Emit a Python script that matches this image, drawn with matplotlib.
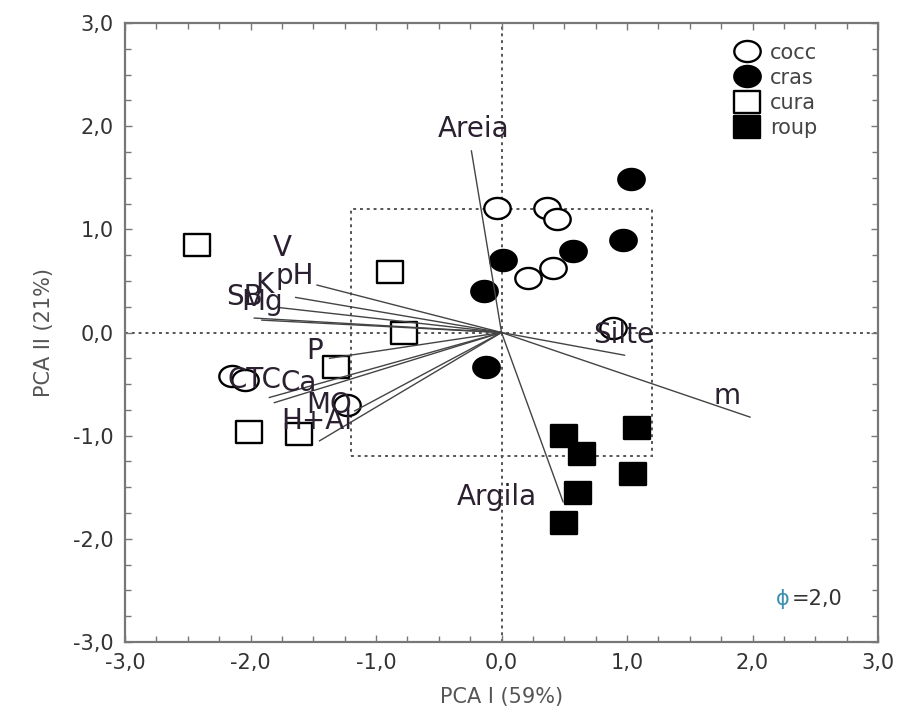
import matplotlib
matplotlib.use('Agg')
import matplotlib.pyplot as plt
import numpy as np
from matplotlib.path import Path
from matplotlib.lines import Line2D
from matplotlib.patches import Rectangle
from matplotlib.ticker import MultipleLocator, FuncFormatter

# sample scores on the first two components
cocc_x = [-0.04, 0.36, 0.44, 0.41, 0.21, 0.89, -2.15, -2.04, -1.23]
cocc_y = [1.21, 1.21, 1.10, 0.63, 0.53, 0.04, -0.42, -0.46, -0.70]
cras_x = [1.03, 0.97, 0.57, 0.01, -0.14, -0.12]
cras_y = [1.49, 0.90, 0.79, 0.70, 0.40, -0.33]
cura_x = [-2.43, -0.89, -0.78, -1.32, -2.01, -1.61]
cura_y = [0.85, 0.59, 0.00, -0.33, -0.96, -0.98]
roup_x = [0.50, 0.64, 1.08, 1.05, 0.61, 0.50]
roup_y = [-1.00, -1.18, -0.93, -1.37, -1.56, -1.85]

# soil variable loadings (vector tips) and where their names sit
var_names = ['Areia', 'Argila', 'Silte', 'm', 'V', 'pH', 'K', 'SB', 'Mg',
             'P', 'CTC', 'Ca', 'MO', 'H+Al']
var_x = [-0.24, 0.49, 0.98, 1.98, -1.64, -1.47, -1.76, -1.97, -1.91,
         -1.37, -1.85, -1.81, -1.17, -1.45]
var_y = [1.76, -1.64, -0.22, -0.82, 0.34, 0.46, 0.24, 0.14, 0.12,
         -0.25, -0.63, -0.68, -0.76, -1.05]
lab_x = [-0.22, -0.04, 0.97, 1.80, -1.75, -1.65, -1.89, -2.05, -1.91,
         -1.49, -1.97, -1.62, -1.37, -1.47]
lab_y = [1.97, -1.59, -0.02, -0.62, 0.82, 0.55, 0.46, 0.34, 0.30,
         -0.18, -0.46, -0.49, -0.70, -0.86]

box_half = 1.2

# slightly wide markers
t = np.linspace(0, 2 * np.pi, 64)
ellipse = Path(np.c_[1.25 * np.cos(t), np.sin(t)], closed=True)
rect = Path([(-1.25, -1), (1.25, -1), (1.25, 1), (-1.25, 1), (-1.25, -1)], closed=True)

plt.rcParams['font.family'] = 'DejaVu Sans'

fig = plt.figure(figsize=(9, 7.17), dpi=100)
ax = fig.add_axes([0.1389, 0.1046, 0.8367, 0.8633])
ax.set_xlim(-3, 3)
ax.set_ylim(-3, 3)

dot = dict(color='#555555', lw=1.4, linestyle=(0, (1.5, 2.0)), zorder=1)
ax.axhline(0, **dot)
ax.axvline(0, **dot)
ax.add_patch(Rectangle((-box_half, -box_half), 2 * box_half, 2 * box_half,
                       fill=False, ec='#555555', lw=1.4, ls=(0, (1.5, 2.0)), zorder=1))

ms = 19
ax.plot(cocc_x, cocc_y, ls='none', marker=ellipse, ms=ms, mfc='white', mec='black', mew=1.7, zorder=3)
ax.plot(cras_x, cras_y, ls='none', marker=ellipse, ms=ms, mfc='black', mec='black', mew=1.7, zorder=3)
ax.plot(cura_x, cura_y, ls='none', marker=rect, ms=ms, mfc='white', mec='black', mew=1.7, zorder=3)
ax.plot(roup_x, roup_y, ls='none', marker=rect, ms=ms, mfc='black', mec='black', mew=1.7, zorder=3)

for name, vx, vy, tx, ty in zip(var_names, var_x, var_y, lab_x, lab_y):
    ax.plot([0, vx], [0, vy], color='#444444', lw=1.0, zorder=4)
    ax.text(tx, ty, name, fontsize=20, color='#2a2030', ha='center', va='center', zorder=5)

ax.text(2.24, -2.58, 'ϕ', fontsize=15, color='#3a8fb0', ha='center', va='center')
ax.text(2.31, -2.58, '=2,0', fontsize=15, color='#333333', ha='left', va='center')

handles = [
    Line2D([], [], ls='none', marker=ellipse, ms=ms, mfc='white', mec='black', mew=1.7),
    Line2D([], [], ls='none', marker=ellipse, ms=ms, mfc='black', mec='black', mew=1.7),
    Line2D([], [], ls='none', marker=rect, ms=ms, mfc='white', mec='black', mew=1.7),
    Line2D([], [], ls='none', marker=rect, ms=ms, mfc='black', mec='black', mew=1.7),
]
leg = ax.legend(handles, ['cocc', 'cras', 'cura', 'roup'], loc='upper left',
                bbox_to_anchor=(0.79, 0.992), frameon=False, fontsize=15,
                handlelength=1.2, handletextpad=0.5, labelspacing=0.25, borderpad=0.2)
for txt in leg.get_texts():
    txt.set_color('#444444')

fmt = FuncFormatter(lambda v, p: f'{v:.1f}'.replace('.', ','))
for axis in (ax.xaxis, ax.yaxis):
    axis.set_major_locator(MultipleLocator(1.0))
    axis.set_minor_locator(MultipleLocator(0.25))
    axis.set_major_formatter(fmt)
ax.tick_params(which='both', direction='in', top=True, right=True, color='#777777', width=1.0)
ax.tick_params(which='major', length=5, labelsize=15, labelcolor='#333333', pad=8)
ax.tick_params(which='minor', length=4)
for s in ax.spines.values():
    s.set_color('#777777')
    s.set_linewidth(1.6)

ax.set_xlabel('PCA I (59%)', fontsize=15, color='#555555', labelpad=10)
ax.set_ylabel('PCA II (21%)', fontsize=15, color='#555555', labelpad=14)

fig.savefig('out.png', dpi=100)
